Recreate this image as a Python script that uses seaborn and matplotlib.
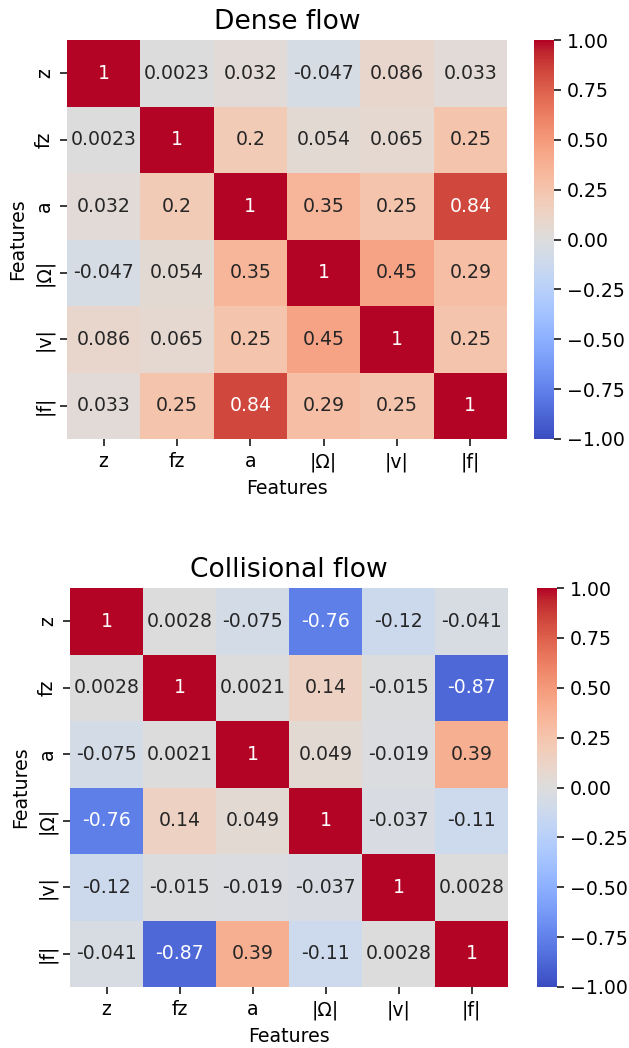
import numpy as np
import pandas as pd
import matplotlib
matplotlib.use("Agg")
import matplotlib.pyplot as plt
import seaborn as sns

features = ["z", "fz", "a", "|Ω|", "|v|", "|f|"]

dense_flow = [
    [1, 0.0023, 0.032, -0.047, 0.086, 0.033],
    [0.0023, 1, 0.2, 0.054, 0.065, 0.25],
    [0.032, 0.2, 1, 0.35, 0.25, 0.84],
    [-0.047, 0.054, 0.35, 1, 0.45, 0.29],
    [0.086, 0.065, 0.25, 0.45, 1, 0.25],
    [0.033, 0.25, 0.84, 0.29, 0.25, 1],
]

collisional_flow = [
    [1, 0.0028, -0.075, -0.76, -0.12, -0.041],
    [0.0028, 1, 0.0021, 0.14, -0.015, -0.87],
    [-0.075, 0.0021, 1, 0.049, -0.019, 0.39],
    [-0.76, 0.14, 0.049, 1, -0.037, -0.11],
    [-0.12, -0.015, -0.019, -0.037, 1, 0.0028],
    [-0.041, -0.87, 0.39, -0.11, 0.0028, 1],
]

titles = ["Dense flow", "Collisional flow"]

W, H = 629, 1048
dpi = 136
fig = plt.figure(figsize=(W / dpi, H / dpi), dpi=dpi)

def rect(x0, y0, x1, y1):
    return [x0 / W, 1 - y1 / H, (x1 - x0) / W, (y1 - y0) / H]

layouts = [
    (rect(67, 40, 507, 439), rect(534, 40, 554, 439)),
    (rect(70, 588, 508, 987), rect(537, 588, 557, 987)),
]

for data, title, (axr, cbr) in zip([dense_flow, collisional_flow], titles, layouts):
    df = pd.DataFrame(data, index=features, columns=features)
    ax = fig.add_axes(axr)
    cax = fig.add_axes(cbr)
    sns.heatmap(df, annot=True, cmap="coolwarm", vmin=-1, vmax=1, ax=ax, cbar_ax=cax)
    ax.set_title(title, fontsize=14)
    ax.set_xlabel("Features")
    ax.set_ylabel("Features")

fig.savefig("out.png", dpi=dpi)
